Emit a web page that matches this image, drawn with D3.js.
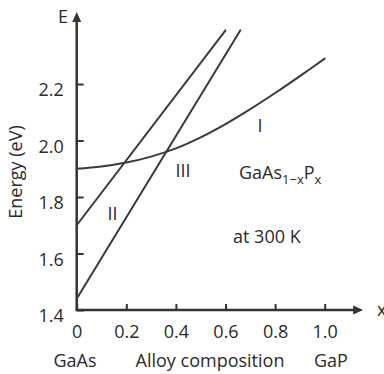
<!DOCTYPE html>
<html>
<head>
<meta charset="utf-8">
<script src="https://cdn.jsdelivr.net/npm/d3@7"></script>
<style>
  html, body { margin: 0; padding: 0; background: #fff; }
  svg { display: block; }
  text { font-family: "Open Sans", "Noto Sans", sans-serif; fill: #2b2b2b; }
</style>
</head>
<body>
<svg id="chart" width="384" height="374"></svg>
<script>
// Energy-gap values for GaAs(1-x)P(x) at 300 K
const composition = [0, 0.1, 0.2, 0.3, 0.4, 0.5, 0.6, 0.7, 0.8, 0.9, 1.0];
const bandI = [1.900, 1.908, 1.922, 1.943, 1.972, 2.011, 2.058, 2.111, 2.168, 2.228, 2.290];
const bandIIx = [0, 0.60];
const bandII = [1.70, 2.39];
const bandIIIx = [0, 0.66];
const bandIII = [1.44, 2.39];

const xTicks = [0, 0.2, 0.4, 0.6, 0.8, 1.0];
const yTicks = [1.4, 1.6, 1.8, 2.0, 2.2];
const xAxisEnd = 1.155;
const yAxisEnd = 2.455;

const svg = d3.select("#chart");
const x = d3.scaleLinear().domain([0, 1]).range([76.7, 324.7]);
const y = d3.scaleLinear().domain([1.4, 2.2]).range([310, 84]);

const ink = "#333";
const fs = 18;

// y axis
const yAxis = d3.axisLeft(y)
  .tickValues(yTicks)
  .tickSizeInner(-7)
  .tickSizeOuter(0)
  .tickPadding(13)
  .tickFormat(d3.format(".1f"));
const gy = svg.append("g").attr("transform", `translate(${x(0)},0)`).call(yAxis);
gy.select(".domain").remove();
gy.selectAll(".tick line").attr("stroke", ink).attr("stroke-width", 2);
gy.selectAll(".tick text").attr("font-size", fs).attr("dy", "0.64em").attr("fill", "#2b2b2b");

// x axis
const xAxis = d3.axisBottom(x)
  .tickValues(xTicks)
  .tickSizeInner(-6)
  .tickSizeOuter(0)
  .tickPadding(15)
  .tickFormat(d => d === 0 ? "0" : d3.format(".1f")(d));
const gx = svg.append("g").attr("transform", `translate(0,${y(1.4)})`).call(xAxis);
gx.select(".domain").remove();
gx.selectAll(".tick line").attr("stroke", ink).attr("stroke-width", 2);
gx.selectAll(".tick text").attr("font-size", fs).attr("fill", "#2b2b2b");

// axis lines with arrowheads
svg.append("line")
  .attr("x1", x(0)).attr("y1", y(1.4))
  .attr("x2", x(0)).attr("y2", y(yAxisEnd) + 6)
  .attr("stroke", ink).attr("stroke-width", 2.5);
svg.append("path")
  .attr("d", `M${x(0)},${y(yAxisEnd)} L${x(0) - 4.5},${y(yAxisEnd) + 10} L${x(0) + 4.5},${y(yAxisEnd) + 10} Z`)
  .attr("fill", ink);
svg.append("line")
  .attr("x1", x(0) - 1.2).attr("y1", y(1.4))
  .attr("x2", x(xAxisEnd) - 6).attr("y2", y(1.4))
  .attr("stroke", ink).attr("stroke-width", 2.5);
svg.append("path")
  .attr("d", `M${x(xAxisEnd)},${y(1.4)} L${x(xAxisEnd) - 10},${y(1.4) - 4.5} L${x(xAxisEnd) - 10},${y(1.4) + 4.5} Z`)
  .attr("fill", ink);

// band curves
const line = d3.line().x(d => x(d[0])).y(d => y(d[1]));
const curve = d3.line().x(d => x(d[0])).y(d => y(d[1])).curve(d3.curveCatmullRom.alpha(0.5));
const g = svg.append("g").attr("fill", "none").attr("stroke", "#3a3a3a").attr("stroke-width", 2).attr("stroke-linecap", "round");
g.append("path").attr("d", curve(composition.map((c, i) => [c, bandI[i]])));
g.append("path").attr("d", line(bandIIx.map((c, i) => [c, bandII[i]])));
g.append("path").attr("d", line(bandIIIx.map((c, i) => [c, bandIII[i]])));

// axis titles
svg.append("text").attr("x", 68).attr("y", 23).attr("text-anchor", "end").attr("font-size", fs).text("E");
svg.append("text").attr("x", 377).attr("y", 316).attr("font-size", fs).text("x");
svg.append("text")
  .attr("transform", "translate(22,172) rotate(-90)")
  .attr("text-anchor", "middle").attr("font-size", fs).text("Energy (eV)");
svg.append("text").attr("x", 75).attr("y", 367).attr("text-anchor", "middle").attr("font-size", fs).text("GaAs");
svg.append("text").attr("x", 210).attr("y", 367).attr("text-anchor", "middle").attr("font-size", fs).text("Alloy composition");
svg.append("text").attr("x", 331).attr("y", 367).attr("text-anchor", "middle").attr("font-size", fs).text("GaP");

// band labels
svg.append("text").attr("x", 260).attr("y", 132).attr("text-anchor", "middle").attr("font-size", fs).text("I");
svg.append("text").attr("x", 112.5).attr("y", 220).attr("text-anchor", "middle").attr("font-size", fs).text("II");
svg.append("text").attr("x", 183).attr("y", 177).attr("text-anchor", "middle").attr("font-size", fs).text("III");

// compound formula
const f = svg.append("text").attr("x", 239).attr("y", 179).attr("font-size", fs);
f.append("tspan").text("GaAs");
f.append("tspan").attr("dy", 5).attr("font-size", 13).text("1\u2212x");
f.append("tspan").attr("dy", -5).text("P");
f.append("tspan").attr("dy", 5).attr("font-size", 13).text("x");

svg.append("text").attr("x", 233).attr("y", 243).attr("font-size", fs).text("at 300 K");
</script>
</body>
</html>
